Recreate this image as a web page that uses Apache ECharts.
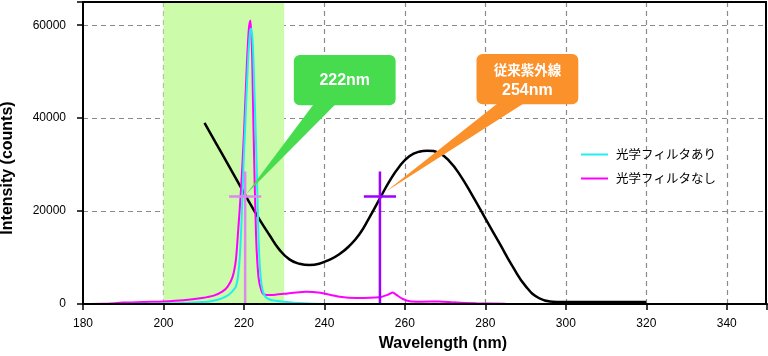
<!DOCTYPE html>
<html>
<head>
<meta charset="utf-8">
<script src="https://cdn.jsdelivr.net/npm/echarts@6/dist/echarts.min.js"></script>
<style>
html,body{margin:0;padding:0;background:#fff;}
#c{width:768px;height:356px;}
</style>
</head>
<body>
<div id="c"></div>
<script>
// ---- data ----
const xTicks = [180, 200, 220, 240, 260, 280, 300, 320, 340];
const yTicks = [0, 20000, 40000, 60000];
const filterBand = [200, 230];

const blackCurve = [
  [210.2,39000],[213,34700],[216,30100],[219,25500],[222,20900],[224,18000],[226.3,14900],
  [228.8,11700],[231.3,9600],[233.8,8660],[236.3,8380],[238.7,8660],[241.2,9520],
  [243.7,10700],[246.2,12500],[248.7,15000],[251.1,18480],[253.6,22400],[256.1,26340],
  [258.6,29560],[261.1,31800],[263.5,32780],[265.5,33000],[268.6,32400],[271.1,30700],
  [273.6,27900],[276.9,23150],[280.2,18100],[283.5,13100],[286.8,8050],[290.1,3730],
  [293.4,1230],[296.7,500],[299,420],[320,420]
];

const withFilter = [
  [180,0],[190,20],[200,100],[205,200],[209,400],[211.4,560],[213.5,900],[215.6,1630],
  [217,2600],[218,3800],[218.6,6500],[219.1,12000],[219.5,20000],[219.9,30000],
  [220.4,40000],[221,52000],[221.5,58500],[221.8,59300],[222.2,56000],[222.6,46000],
  [223.2,28800],[223.6,15000],[224,7500],[224.5,3500],[225.4,1500],[227,800],
  [230,500],[234,200],[240,0],[350,0]
];

const withoutFilter = [
  [180,0],[185,30],[190,300],[195,450],[200,550],[205,800],[209.6,1290],[212.5,1800],
  [214.7,2700],[216,3800],[217.2,5900],[218,9500],[218.5,15000],[219.3,25000],
  [220,36700],[220.7,51000],[221.2,59000],[221.6,61000],[221.9,57000],[222.1,51000],
  [222.4,36700],[223,15000],[223.6,5900],[224.3,3000],[225.1,2000],[227,1950],
  [230,2200],[233,2500],[235.5,2650],[239,2400],[243.8,1570],[248,1300],[253.7,1450],
  [255.5,1900],[257,2500],[258,1900],[259.5,1080],[261.2,600],[264,500],[268.6,550],
  [272,350],[277.7,150],[285,30],[290,0],[350,0]
];

const cross222 = {x: 220.3, y: 23150, top: 28500, half: 4};
const cross254 = {x: 253.8, y: 23150, top: 28500, half: 4};

const seriesNames = ['光学フィルタあり', '光学フィルタなし'];

// annotation boxes (in data coordinates)
const callouts = [
  {box:[232.4,53600,257.7,42800], base:[237.5,243], tip:[220.6,23700], color:'#46dc4e',
   lines:[{t:'222nm', dy:1, size:16}]},
  {box:[277.8,53800,303.1,43000], base:[283.4,290], tip:[255.3,24200], color:'#fb912b',
   lines:[{t:'従来紫外線', dy:-7.5, size:13.5},{t:'254nm', dy:11, size:16}]}
];

// ---- chart ----
const FONT = '"Liberation Sans", Arial, "Noto Sans CJK JP", sans-serif';
const chart = echarts.init(document.getElementById('c'), null, {renderer:'canvas'});

const gridLine = {show:true, showMinLine:false, showMaxLine:false, lineStyle:{color:'#8a8a8a', type:[5,4], width:1.2}};

const option = {
  animation:false,
  backgroundColor:'#fff',
  textStyle:{fontFamily:FONT},
  grid:{left:83, right:1, top:2, bottom:52, show:false, containLabel:false, outerBoundsMode:'none'},
  xAxis:{
    type:'value', min:180, max:350, interval:20,
    name:'Wavelength (nm)', nameLocation:'middle', nameGap:32,
    nameTextStyle:{fontSize:16, fontWeight:'bold', color:'#000', fontFamily:FONT, padding:[0,0,0,36]},
    axisLine:{show:true, onZero:false, lineStyle:{color:'#000', width:2}},
    axisTick:{show:true, length:6, lineStyle:{color:'#000', width:1.5}},
    axisLabel:{color:'#000', fontSize:12, margin:14, fontFamily:FONT,
      formatter:v => xTicks.includes(v) ? String(v) : ''},
    splitLine:gridLine
  },
  yAxis:{
    type:'value', min:0, max:65000, interval:20000,
    name:'Intensity (counts)', nameLocation:'middle', nameGap:67,
    nameTextStyle:{fontSize:16, fontWeight:'bold', color:'#000', fontFamily:FONT, padding:[0,30,0,0]},
    axisLine:{show:true, onZero:false, lineStyle:{color:'#000', width:2}},
    axisTick:{show:true, length:6, lineStyle:{color:'#000', width:1.5}},
    axisLabel:{color:'#000', fontSize:12, margin:17, fontFamily:FONT,
      formatter:v => yTicks.includes(v) ? String(v) : ''},
    splitLine:gridLine
  },
  legend:{
    data:seriesNames, orient:'vertical', left:576, top:142, icon:'rect',
    itemWidth:27, itemHeight:2, itemGap:9,
    textStyle:{fontSize:12.5, lineHeight:15, color:'#000', fontFamily:'"Noto Sans CJK JP", sans-serif', padding:[0,0,0,3]}
  },
  series:[
    {type:'line', name:'band', data:[], z:-1, silent:true,
     markArea:{silent:true, itemStyle:{color:'#ccfbaa'}, data:[[{xAxis:filterBand[0], yAxis:0},{xAxis:filterBand[1], yAxis:65000}]]}},
    {type:'line', name:'curve', data:blackCurve, showSymbol:false, symbol:'none', smooth:0.5,
     lineStyle:{color:'#000', width:2.5}, itemStyle:{color:'#000'}, z:3},
    {type:'line', name:seriesNames[1], data:withoutFilter, symbol:'none', smooth:0.25,
     lineStyle:{color:'#ff00ff', width:2}, itemStyle:{color:'#ff00ff'}, z:4},
    {type:'line', name:seriesNames[0], data:withFilter, symbol:'none', smooth:0.25,
     lineStyle:{color:'#22eeee', width:2}, itemStyle:{color:'#22eeee'}, z:5},
    {type:'line', name:'c222v', data:[[cross222.x,0],[cross222.x,cross222.top]], symbol:'none',
     lineStyle:{color:'#dd88ee', width:2.5}, z:6},
    {type:'line', name:'c222h', data:[[cross222.x-cross222.half,cross222.y],[cross222.x+cross222.half,cross222.y]], symbol:'none',
     lineStyle:{color:'#dd88ee', width:2.5}, z:6},
    {type:'line', name:'c254v', data:[[cross254.x,0],[cross254.x,cross254.top]], symbol:'none',
     lineStyle:{color:'#9d00ff', width:2.5}, z:6},
    {type:'line', name:'c254h', data:[[cross254.x-cross254.half,cross254.y],[cross254.x+cross254.half,cross254.y]], symbol:'none',
     lineStyle:{color:'#9d00ff', width:2.5}, z:6}
  ]
};
chart.setOption(option);

function px(p){ return chart.convertToPixel({gridIndex:0}, p); }
const graphics = [];
// plot frame
const f0 = px([180, 65000]), f1 = px([350, 0]);
graphics.push({type:'rect', z:50, silent:true, shape:{x:f0[0], y:f0[1], width:f1[0]-f0[0]-1, height:f1[1]-f0[1]},
  style:{fill:null, stroke:'#000', lineWidth:2}});
callouts.forEach(c => {
  const tl = px([c.box[0], c.box[1]]);
  const br = px([c.box[2], c.box[3]]);
  const b1 = px([c.base[0], c.box[3]]);
  const b2 = px([c.base[1], c.box[3]]);
  const tip = px(c.tip);
  graphics.push({type:'polygon', z:100, shape:{points:[[b1[0],b1[1]-2],[b2[0],b2[1]-2],[tip[0],tip[1]]]}, style:{fill:c.color}});
  graphics.push({type:'rect', z:101, shape:{x:tl[0], y:tl[1], width:br[0]-tl[0], height:br[1]-tl[1], r:6}, style:{fill:c.color}});
  const cx = (tl[0]+br[0])/2, cy = (tl[1]+br[1])/2;
  c.lines.forEach(l => {
    graphics.push({type:'text', z:102, x:cx, y:cy+l.dy, style:{text:l.t, fill:'#fff', align:'center', verticalAlign:'middle',
      textAlign:'center', textVerticalAlign:'middle',
      font:'bold '+l.size+'px "Liberation Sans", Arial, "Noto Sans CJK JP", sans-serif'}});
  });
});
chart.setOption({graphic:graphics});
</script>
</body>
</html>
